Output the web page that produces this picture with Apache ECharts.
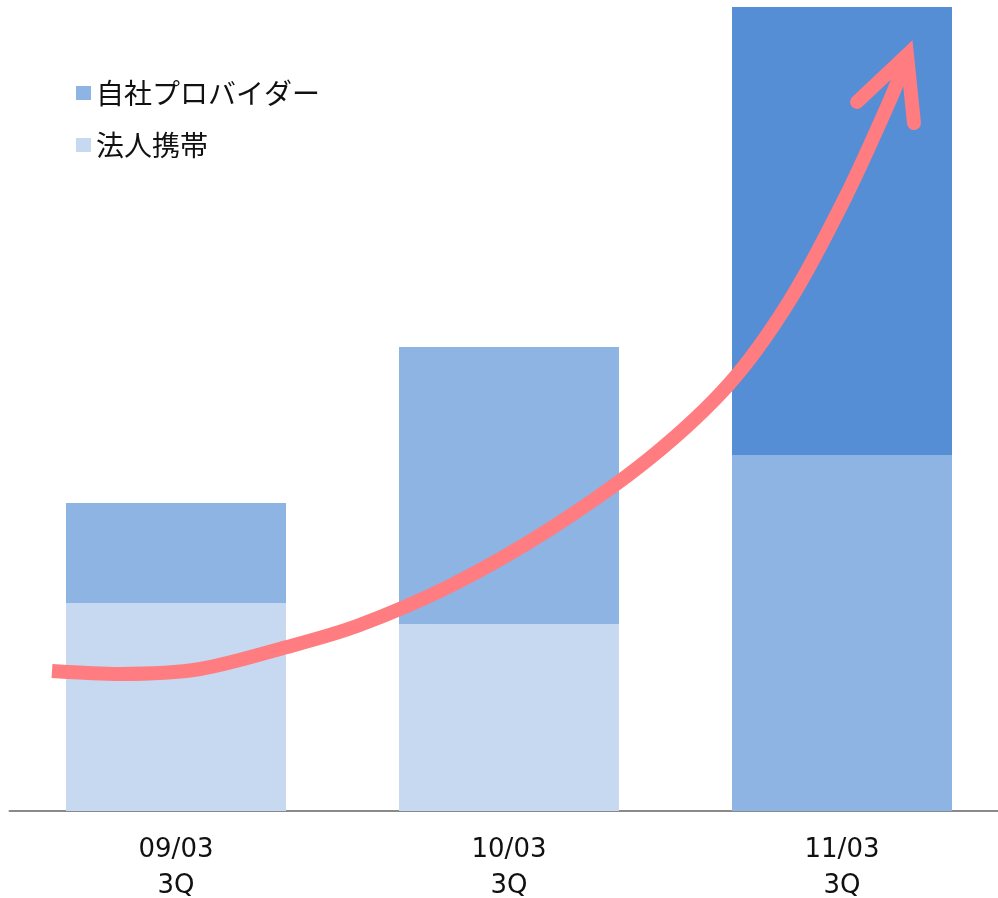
<!DOCTYPE html>
<html>
<head>
<meta charset="utf-8">
<script src="https://cdn.jsdelivr.net/npm/echarts@6/dist/echarts.min.js"></script>
<style>
  html, body { margin: 0; padding: 0; background: #fff; }
  #chart { width: 998px; height: 898px; }
</style>
</head>
<body>
<div id="chart"></div>
<script>
// categories
const categories = ['09/03\n3Q', '10/03\n3Q', '11/03\n3Q']
// stacked values
const houjinKeitai = [208, 187, 356]
const jishaProvider = [100, 277, 448]
// red growth arrow (drawn on an overlay value grid)
const arrowCurve = [
  [52, 671], [120, 674], [200, 669], [287, 647], [357, 626], [450, 586],
  [550, 529], [650, 458], [730, 383], [790, 300], [845, 198], [890, 100], [907, 57]
]
const arrowHead = [[857, 102], [907, 55], [914, 123]]

const light = '#c6d9f0'
const mid = '#8eb4e3'
const dark = '#558ed5'
const red = '#ff7c80'

let myChart = echarts.init(document.getElementById('chart'))
let option = {
  animation: false,
  backgroundColor: '#fff',
  legend: {
    orient: 'vertical',
    left: 71,
    top: 73,
    itemWidth: 15,
    itemHeight: 14,
    itemGap: 22,
    icon: 'rect',
    textStyle: {
      fontFamily: 'Noto Sans CJK JP',
      fontSize: 28,
      color: '#111',
      lineHeight: 30
    },
    data: [
      { name: '自社プロバイダー', itemStyle: { color: mid } },
      { name: '法人携帯', itemStyle: { color: light } }
    ]
  },
  grid: [
    { left: 9.5, width: 999, top: 7, bottom: 87, outerBoundsMode: 'none', containLabel: false },
    { left: 0, right: 0, top: 0, bottom: 0, outerBoundsMode: 'none' }
  ],
  xAxis: [
    {
      type: 'category',
      gridIndex: 0,
      data: categories,
      axisLine: { lineStyle: { color: '#8a8a8a', width: 2 } },
      axisTick: { show: false },
      axisLabel: {
        margin: 21,
        fontFamily: 'DejaVu Sans',
        fontSize: 26,
        lineHeight: 36,
        color: '#111'
      }
    },
    { type: 'value', gridIndex: 1, min: 0, max: 998, show: false }
  ],
  yAxis: [
    { type: 'value', gridIndex: 0, min: 0, max: 804, show: false },
    { type: 'value', gridIndex: 1, min: 0, max: 898, inverse: true, show: false }
  ],
  series: [
    {
      name: '法人携帯',
      type: 'bar',
      stack: 'total',
      barWidth: 220,
      itemStyle: { color: light },
      data: houjinKeitai.map((v, i) => i === 2 ? { value: v, itemStyle: { color: mid } } : v)
    },
    {
      name: '自社プロバイダー',
      type: 'bar',
      stack: 'total',
      barWidth: 220,
      itemStyle: { color: mid },
      data: jishaProvider.map((v, i) => i === 2 ? { value: v, itemStyle: { color: dark } } : v)
    },
    {
      name: 'curve',
      type: 'line',
      xAxisIndex: 1,
      yAxisIndex: 1,
      z: 10,
      smooth: 0.3,
      symbol: 'none',
      lineStyle: { color: red, width: 14, cap: 'butt' },
      data: arrowCurve
    },
    {
      name: 'head',
      type: 'line',
      xAxisIndex: 1,
      yAxisIndex: 1,
      z: 10,
      symbol: 'none',
      lineStyle: { color: red, width: 14, cap: 'round', join: 'miter' },
      data: arrowHead
    }
  ]
}
myChart.setOption(option)
</script>
</body>
</html>
